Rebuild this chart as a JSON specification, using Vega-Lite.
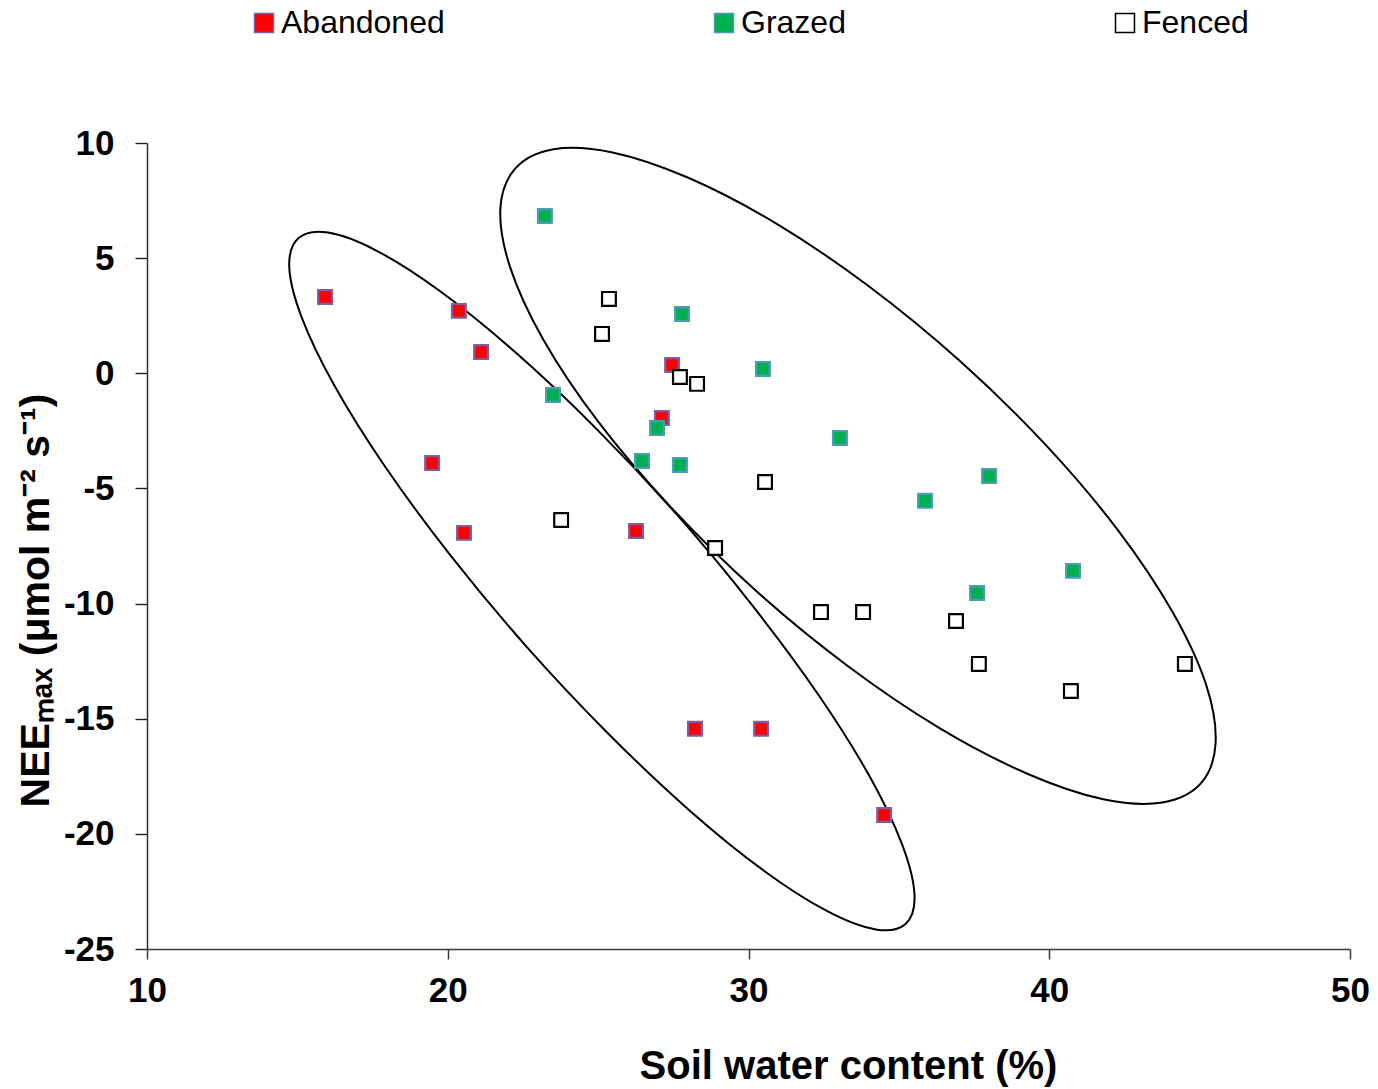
{
  "$schema": "https://vega.github.io/schema/vega-lite/v6.json",
  "width": 1203,
  "height": 806,
  "autosize": {"type": "none"},
  "padding": {"left": 147, "top": 143, "right": 28, "bottom": 140},
  "background": "white",
  "config": {"view": {"stroke": null}, "font": "Liberation Sans"},
  "datasets": {
    "points": [
      {"group": "Abandoned", "x": 15.92, "y": 3.31},
      {"group": "Abandoned", "x": 20.37, "y": 2.71},
      {"group": "Abandoned", "x": 21.11, "y": 0.92},
      {"group": "Abandoned", "x": 27.46, "y": 0.36},
      {"group": "Abandoned", "x": 27.12, "y": -1.94},
      {"group": "Abandoned", "x": 19.48, "y": -3.9},
      {"group": "Abandoned", "x": 20.54, "y": -6.93},
      {"group": "Abandoned", "x": 26.26, "y": -6.85},
      {"group": "Abandoned", "x": 28.22, "y": -15.44},
      {"group": "Abandoned", "x": 30.42, "y": -15.44},
      {"group": "Abandoned", "x": 34.51, "y": -19.18},
      {"group": "Grazed", "x": 23.23, "y": 6.83},
      {"group": "Grazed", "x": 27.79, "y": 2.57},
      {"group": "Grazed", "x": 30.48, "y": 0.19},
      {"group": "Grazed", "x": 23.5, "y": -0.94},
      {"group": "Grazed", "x": 26.96, "y": -2.38},
      {"group": "Grazed", "x": 26.46, "y": -3.81},
      {"group": "Grazed", "x": 27.72, "y": -3.98},
      {"group": "Grazed", "x": 33.04, "y": -2.81},
      {"group": "Grazed", "x": 38.0, "y": -4.46},
      {"group": "Grazed", "x": 35.87, "y": -5.54},
      {"group": "Grazed", "x": 37.6, "y": -9.54},
      {"group": "Grazed", "x": 40.79, "y": -8.58},
      {"group": "Fenced", "x": 25.36, "y": 3.23},
      {"group": "Fenced", "x": 25.13, "y": 1.71},
      {"group": "Fenced", "x": 27.72, "y": -0.16},
      {"group": "Fenced", "x": 28.29, "y": -0.46},
      {"group": "Fenced", "x": 30.55, "y": -4.72},
      {"group": "Fenced", "x": 23.77, "y": -6.37},
      {"group": "Fenced", "x": 28.89, "y": -7.59},
      {"group": "Fenced", "x": 32.41, "y": -10.37},
      {"group": "Fenced", "x": 33.81, "y": -10.37},
      {"group": "Fenced", "x": 36.9, "y": -10.76},
      {"group": "Fenced", "x": 37.66, "y": -12.62},
      {"group": "Fenced", "x": 40.72, "y": -13.8},
      {"group": "Fenced", "x": 44.51, "y": -12.62}
    ],
    "ellipses": [
      {"ellipse": "left", "t": 0, "x": 35.22, "y": -23.91},
      {"ellipse": "left", "t": 1, "x": 34.23, "y": -24.15},
      {"ellipse": "left", "t": 2, "x": 32.62, "y": -23.36},
      {"ellipse": "left", "t": 3, "x": 30.5, "y": -21.59},
      {"ellipse": "left", "t": 4, "x": 28.02, "y": -18.96},
      {"ellipse": "left", "t": 5, "x": 25.34, "y": -15.65},
      {"ellipse": "left", "t": 6, "x": 22.64, "y": -11.9},
      {"ellipse": "left", "t": 7, "x": 20.11, "y": -7.94},
      {"ellipse": "left", "t": 8, "x": 17.92, "y": -4.06},
      {"ellipse": "left", "t": 9, "x": 16.23, "y": -0.53},
      {"ellipse": "left", "t": 10, "x": 15.14, "y": 2.44},
      {"ellipse": "left", "t": 11, "x": 14.73, "y": 4.62},
      {"ellipse": "left", "t": 12, "x": 15.04, "y": 5.87},
      {"ellipse": "left", "t": 13, "x": 16.02, "y": 6.11},
      {"ellipse": "left", "t": 14, "x": 17.64, "y": 5.32},
      {"ellipse": "left", "t": 15, "x": 19.76, "y": 3.55},
      {"ellipse": "left", "t": 16, "x": 22.24, "y": 0.92},
      {"ellipse": "left", "t": 17, "x": 24.92, "y": -2.38},
      {"ellipse": "left", "t": 18, "x": 27.62, "y": -6.14},
      {"ellipse": "left", "t": 19, "x": 30.14, "y": -10.1},
      {"ellipse": "left", "t": 20, "x": 32.33, "y": -13.97},
      {"ellipse": "left", "t": 21, "x": 34.03, "y": -17.51},
      {"ellipse": "left", "t": 22, "x": 35.11, "y": -20.47},
      {"ellipse": "left", "t": 23, "x": 35.52, "y": -22.66},
      {"ellipse": "right", "t": 0, "x": 45.04, "y": -17.81},
      {"ellipse": "right", "t": 1, "x": 43.76, "y": -18.64},
      {"ellipse": "right", "t": 2, "x": 41.8, "y": -18.5},
      {"ellipse": "right", "t": 3, "x": 39.29, "y": -17.4},
      {"ellipse": "right", "t": 4, "x": 36.38, "y": -15.43},
      {"ellipse": "right", "t": 5, "x": 33.3, "y": -12.71},
      {"ellipse": "right", "t": 6, "x": 30.23, "y": -9.42},
      {"ellipse": "right", "t": 7, "x": 27.4, "y": -5.79},
      {"ellipse": "right", "t": 8, "x": 24.99, "y": -2.08},
      {"ellipse": "right", "t": 9, "x": 23.17, "y": 1.48},
      {"ellipse": "right", "t": 10, "x": 22.07, "y": 4.62},
      {"ellipse": "right", "t": 11, "x": 21.75, "y": 7.16},
      {"ellipse": "right", "t": 12, "x": 22.25, "y": 8.9},
      {"ellipse": "right", "t": 13, "x": 23.52, "y": 9.73},
      {"ellipse": "right", "t": 14, "x": 25.48, "y": 9.59},
      {"ellipse": "right", "t": 15, "x": 28.0, "y": 8.49},
      {"ellipse": "right", "t": 16, "x": 30.9, "y": 6.52},
      {"ellipse": "right", "t": 17, "x": 33.99, "y": 3.79},
      {"ellipse": "right", "t": 18, "x": 37.05, "y": 0.51},
      {"ellipse": "right", "t": 19, "x": 39.89, "y": -3.12},
      {"ellipse": "right", "t": 20, "x": 42.3, "y": -6.84},
      {"ellipse": "right", "t": 21, "x": 44.11, "y": -10.39},
      {"ellipse": "right", "t": 22, "x": 45.22, "y": -13.54},
      {"ellipse": "right", "t": 23, "x": 45.53, "y": -16.07}
    ]
  },
  "layer": [
    {
      "data": {"name": "ellipses"},
      "mark": {"type": "line", "interpolate": "cardinal-closed", "color": "black", "strokeWidth": 2},
      "encoding": {
        "x": {
          "field": "x", "type": "quantitative",
          "scale": {"domain": [10, 50], "nice": false, "zero": false},
          "axis": {
            "title": "Soil water content (%)",
            "values": [10, 20, 30, 40, 50],
            "labelExpr": "'' + datum.value",
            "grid": false,
            "domainColor": "#3a3a3a", "domainWidth": 1.6,
            "tickColor": "#3a3a3a", "tickWidth": 1.5, "tickSize": 10,
            "labelFont": "Liberation Sans", "labelFontWeight": "bold", "labelFontSize": 35,
            "labelColor": "black", "labelPadding": 14, "labelFlush": false, "labelOverlap": false,
            "titleFont": "Liberation Sans", "titleFontWeight": "bold", "titleFontSize": 40,
            "titleColor": "black", "titleX": 701, "titleY": 129, "titleBaseline": "alphabetic"
          }
        },
        "y": {
          "field": "y", "type": "quantitative",
          "scale": {"domain": [-25, 10], "nice": false, "zero": false},
          "axis": {
            "title": "NEEₘₐₓ (μmol m⁻² s⁻¹)",
            "values": [-25, -20, -15, -10, -5, 0, 5, 10],
            "labelExpr": "'' + datum.value",
            "grid": false,
            "domainColor": "#222222", "domainWidth": 1.4,
            "tickColor": "#222222", "tickWidth": 1.4, "tickSize": 12,
            "labelFont": "Liberation Sans", "labelFontWeight": "bold", "labelFontSize": 35,
            "labelColor": "black", "labelPadding": 21, "labelFlush": false, "labelOverlap": false,
            "titleFont": "Liberation Sans", "titleFontWeight": "bold", "titleFontSize": 41,
            "titleColor": "black", "titleAngle": -90, "titleX": -99, "titleY": 457, "titleBaseline": "alphabetic"
          }
        },
        "detail": {"field": "ellipse", "type": "nominal"},
        "order": {"field": "t", "type": "quantitative"}
      }
    },
    {
      "data": {"name": "points"},
      "mark": {"type": "point", "shape": "square", "size": 190, "strokeWidth": 2.2, "opacity": 1, "fillOpacity": 1},
      "encoding": {
        "x": {"field": "x", "type": "quantitative"},
        "y": {"field": "y", "type": "quantitative"},
        "fill": {
          "field": "group", "type": "nominal",
          "scale": {"domain": ["Abandoned", "Grazed", "Fenced"], "range": ["#FF0000", "#00B050", "#FFFFFF"]},
          "legend": {
            "title": null, "orient": "none", "legendX": 101, "legendY": -136, "direction": "horizontal",
            "symbolType": "square", "symbolSize": 360, "symbolStrokeWidth": 1.5,
            "labelFont": "Liberation Sans", "labelFontSize": 32, "labelColor": "black", "labelLimit": 600,
            "labelOffset": 1, "columnPadding": 263, "padding": 0
          }
        },
        "stroke": {
          "field": "group", "type": "nominal",
          "scale": {"domain": ["Abandoned", "Grazed", "Fenced"], "range": ["#7b5ea7", "#4a9cb8", "#000000"]},
          "legend": {
            "title": null, "orient": "none", "legendX": 101, "legendY": -136, "direction": "horizontal",
            "symbolType": "square", "symbolSize": 360, "symbolStrokeWidth": 1.5,
            "labelFont": "Liberation Sans", "labelFontSize": 32, "labelColor": "black", "labelLimit": 600,
            "labelOffset": 1, "columnPadding": 263, "padding": 0
          }
        }
      }
    }
  ]
}
